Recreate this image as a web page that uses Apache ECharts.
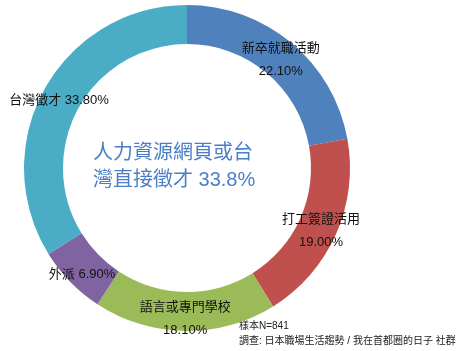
<!DOCTYPE html>
<html>
<head>
<meta charset="utf-8">
<script src="https://cdn.jsdelivr.net/npm/echarts@6/dist/echarts.min.js"></script>
<style>
  html, body { margin: 0; padding: 0; background: #fff; }
  #main { width: 458px; height: 351px; }
</style>
</head>
<body>
<div id="main"></div>
<script>
var categories = ["新卒就職活動", "打工簽證活用", "語言或專門學校", "外派", "台灣徵才"];
var values = [22.1, 19.0, 18.1, 6.9, 33.8];
var colors = ["#4F81BD", "#C0504D", "#9BBB59", "#8064A2", "#4BACC6"];
// 有些標籤是單行
var singleLine = ["外派", "台灣徵才"];
var centerText = "人力資源網頁或台\n灣直接徵才 33.8%";
var notes = ["樣本N=841", "調查: 日本職場生活趨勢 / 我在首都圈的日子 社群"];

var font = '"Liberation Sans", Arial, "Noto Sans CJK TC", sans-serif';

var dataArr = [];
for (var i = 0; i < categories.length; i++) {
  dataArr.push({ name: categories[i], value: values[i], itemStyle: { color: colors[i] } });
}

var chart = echarts.init(document.getElementById("main"));
var option = {
  animation: false,
  graphic: [
    {
      type: "text",
      left: 93,
      top: 140,
      style: {
        text: centerText,
        fill: "#4A7EC8",
        font: "20px " + font,
        lineHeight: 27
      }
    },
    {
      type: "text",
      left: 239,
      top: 321,
      style: { text: notes[0], fill: "#222", font: "10px " + font }
    },
    {
      type: "text",
      left: 239,
      top: 336,
      style: { text: notes[1], fill: "#222", font: "10px " + font }
    }
  ],
  series: [
    {
      type: "pie",
      center: [187, 168],
      radius: [124, 163],
      startAngle: 90,
      clockwise: true,
      silent: true,
      label: {
        show: true,
        position: "inside",
        color: "#111",
        fontSize: 13,
        fontFamily: font,
        lineHeight: 23,
        offset: [0, 4],
        formatter: function (p) {
          var pct = p.value.toFixed(2) + "%";
          if (singleLine.indexOf(p.name) >= 0) return p.name + " " + pct;
          return p.name + "\n" + pct;
        }
      },
      labelLine: { show: false },
      data: dataArr
    }
  ]
};
chart.setOption(option);
</script>
</body>
</html>
